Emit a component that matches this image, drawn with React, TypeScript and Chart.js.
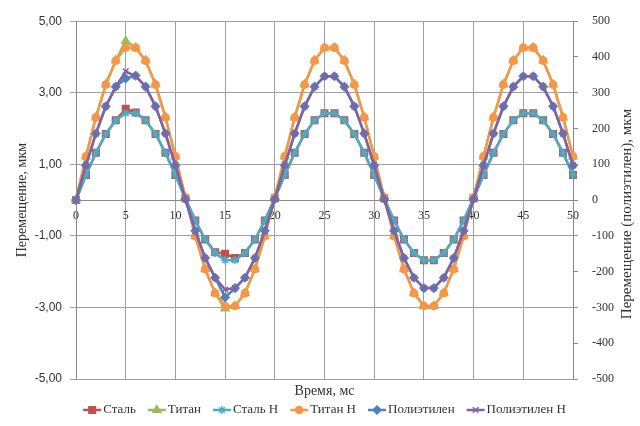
import React, { useEffect, useRef } from 'react';
import { Chart, registerables } from 'chart.js';
import { drawPoint } from 'chart.js/helpers';

Chart.register(...registerables);

// ---- data ----
const timeMs = [
  0, 1, 2, 3, 4, 5, 6, 7, 8, 9, 10, 11, 12, 13, 14, 15, 16, 17, 18, 19,
  20, 21, 22, 23, 24, 25, 26, 27, 28, 29, 30, 31, 32, 33, 34, 35, 36, 37, 38, 39,
  40, 41, 42, 43, 44, 45, 46, 47, 48, 49, 50,
];

// left axis, мкм
const steel = [
  0, 0.70, 1.32, 1.85, 2.23, 2.55, 2.45, 2.23, 1.85, 1.32, 0.70, 0.05, -0.57, -1.10, -1.46, -1.50, -1.62, -1.48, -1.10, -0.57,
  0.05, 0.70, 1.32, 1.85, 2.23, 2.43, 2.43, 2.23, 1.85, 1.32, 0.70, 0.05, -0.57, -1.10, -1.48, -1.68, -1.68, -1.48, -1.10, -0.57,
  0.05, 0.70, 1.32, 1.85, 2.23, 2.43, 2.43, 2.23, 1.85, 1.32, 0.70,
];
const titan = [
  0, 1.22, 2.31, 3.23, 3.90, 4.45, 4.26, 3.90, 3.23, 2.31, 1.22, 0.08, -1.01, -1.93, -2.60, -3.03, -2.96, -2.60, -1.93, -1.01,
  0.08, 1.22, 2.31, 3.23, 3.90, 4.26, 4.26, 3.90, 3.23, 2.31, 1.22, 0.08, -1.01, -1.93, -2.60, -2.96, -2.96, -2.60, -1.93, -1.01,
  0.08, 1.22, 2.31, 3.23, 3.90, 4.26, 4.26, 3.90, 3.23, 2.31, 1.22,
];
const steelH = [
  0, 0.70, 1.32, 1.85, 2.23, 2.43, 2.43, 2.23, 1.85, 1.32, 0.70, 0.05, -0.57, -1.10, -1.48, -1.68, -1.68, -1.48, -1.10, -0.57,
  0.05, 0.70, 1.32, 1.85, 2.23, 2.43, 2.43, 2.23, 1.85, 1.32, 0.70, 0.05, -0.57, -1.10, -1.48, -1.68, -1.68, -1.48, -1.10, -0.57,
  0.05, 0.70, 1.32, 1.85, 2.23, 2.43, 2.43, 2.23, 1.85, 1.32, 0.70,
];
const titanH = [
  0, 1.22, 2.31, 3.23, 3.90, 4.26, 4.26, 3.90, 3.23, 2.31, 1.22, 0.08, -1.01, -1.93, -2.60, -2.96, -2.96, -2.60, -1.93, -1.01,
  0.08, 1.22, 2.31, 3.23, 3.90, 4.26, 4.26, 3.90, 3.23, 2.31, 1.22, 0.08, -1.01, -1.93, -2.60, -2.96, -2.96, -2.60, -1.93, -1.01,
  0.08, 1.22, 2.31, 3.23, 3.90, 4.26, 4.26, 3.90, 3.23, 2.31, 1.22,
];
// right axis, мкм (полиэтилен)
const poly = [
  0, 97, 186, 262, 317, 340, 348, 317, 262, 186, 97, 3, -86, -162, -217, -272, -246, -217, -162, -86,
  3, 97, 186, 262, 317, 346, 346, 317, 262, 186, 97, 3, -86, -162, -217, -246, -246, -217, -162, -86,
  3, 97, 186, 262, 317, 346, 346, 317, 262, 186, 97,
];
const polyH = [
  0, 97, 186, 262, 317, 360, 346, 317, 262, 186, 97, 3, -86, -162, -217, -250, -246, -217, -162, -86,
  3, 97, 186, 262, 317, 346, 346, 317, 262, 186, 97, 3, -86, -162, -217, -246, -246, -217, -162, -86,
  3, 97, 186, 262, 317, 346, 346, 317, 262, 186, 97,
];

const seriesNames = ['Сталь', 'Титан', 'Сталь Н', 'Титан Н', 'Полиэтилен', 'Полиэтилен Н'];
const xTitle = 'Время, мс';
const yLeftTitle = 'Перемещение, мкм';
const yRightTitle = 'Перемещение (полиэтилен), мкм';

// ---- styles ----
const COLORS = ['#C0504D', '#9BBB59', '#4BACC6', '#F79646', '#4F81BD', '#8064A2'];
const STYLES = ['rect', 'triangle', 'star', 'circle', 'rectRot', 'crossRot'];
const RADII = [4.6, 4.5, 4, 3.6, 4, 4];
const ORDERS = [6, 5, 4, 3, 2, 1];
const SERIF = '"Liberation Serif", "Times New Roman", serif';
const SANS = '"Liberation Sans", Arial, sans-serif';
const TEXT = '#333333';
const GRID = '#a0a0a0';
const AXIS = '#8a8a8a';

const decorPlugin = {
  id: 'excelDecor',
  afterDraw(chart: any) {
    const { ctx, chartArea } = chart;
    ctx.save();
    ctx.fillStyle = TEXT;
    ctx.textAlign = 'center';
    ctx.textBaseline = 'middle';
    ctx.font = `14px ${SERIF}`;
    const cx = (chartArea.left + chartArea.right) / 2;
    ctx.fillText(xTitle, cx, 391);

    ctx.save();
    ctx.translate(22, (chartArea.top + chartArea.bottom) / 2);
    ctx.rotate(-Math.PI / 2);
    ctx.fillText(yLeftTitle, 0, 0);
    ctx.restore();

    ctx.save();
    ctx.font = `15px ${SERIF}`;
    ctx.translate(627, 214);
    ctx.rotate(-Math.PI / 2);
    ctx.fillText(yRightTitle, 0, 0);
    ctx.restore();

    // legend
    ctx.font = `13px ${SERIF}`;
    const lineLen = 18;
    const textGap = 2;
    const itemGap = 12;
    const widths = seriesNames.map((n) => lineLen + textGap + ctx.measureText(n).width);
    const total = widths.reduce((a, b) => a + b, 0) + itemGap * (widths.length - 1);
    let x = cx - total / 2;
    const y = 410;
    seriesNames.forEach((name, i) => {
      ctx.strokeStyle = COLORS[i];
      ctx.lineWidth = 2.5;
      ctx.beginPath();
      ctx.moveTo(x, y);
      ctx.lineTo(x + lineLen, y);
      ctx.stroke();
      ctx.fillStyle = COLORS[i];
      ctx.lineWidth = 1.5;
      drawPoint(ctx, { pointStyle: STYLES[i], radius: RADII[i], rotation: 0, borderWidth: 1.5 } as any, x + lineLen / 2, y);
      ctx.fillStyle = TEXT;
      ctx.textAlign = 'left';
      ctx.fillText(name, x + lineLen + textGap, y);
      x += widths[i] + itemGap;
    });
    ctx.restore();
  },
};

export default function App() {
  const canvasRef = useRef<HTMLCanvasElement | null>(null);

  useEffect(() => {
    const canvas = canvasRef.current;
    if (!canvas) return;
    const values = [steel, titan, steelH, titanH, poly, polyH];
    const axes = ['y', 'y', 'y', 'y', 'y2', 'y2'];
    const datasets = values.map((vals, i) => ({
      label: seriesNames[i],
      data: timeMs.map((t, j) => ({ x: t, y: vals[j] })),
      yAxisID: axes[i],
      borderColor: COLORS[i],
      backgroundColor: COLORS[i],
      pointBackgroundColor: COLORS[i],
      pointBorderColor: COLORS[i],
      pointStyle: STYLES[i],
      pointRadius: RADII[i],
      pointBorderWidth: 1.5,
      borderWidth: 2.5,
      tension: 0,
      order: ORDERS[i],
      clip: false,
    }));

    const chart = new Chart(canvas, {
      type: 'line',
      data: { datasets },
      plugins: [decorPlugin],
      options: {
        animation: false,
        responsive: false,
        devicePixelRatio: 1,
        layout: { padding: { top: 19, bottom: 47, left: 0, right: 0 } },
        plugins: { legend: { display: false }, tooltip: { enabled: false } },
        scales: {
          x: {
            type: 'linear',
            position: { y: 0 } as any,
            min: 0,
            max: 50,
            grid: { color: GRID, lineWidth: 1, tickLength: 5 },
            border: { color: AXIS, width: 1 },
            ticks: {
              stepSize: 5,
              padding: 4,
              color: TEXT,
              font: { family: SERIF, size: 12 },
              maxRotation: 0,
              callback: (v: any) => String(v),
            },
          },
          y: {
            type: 'linear',
            position: 'left',
            min: -5,
            max: 5,
            afterFit: (s: any) => { s.width = 76; },
            grid: { color: GRID, lineWidth: 1, tickLength: 6 },
            border: { color: AXIS, width: 1 },
            ticks: {
              stepSize: 2,
              padding: 8,
              color: TEXT,
              font: { family: SANS, size: 12 },
              callback: (v: any) => Number(v).toFixed(2).replace('.', ','),
            },
          },
          y2: {
            type: 'linear',
            position: 'right',
            min: -500,
            max: 500,
            afterFit: (s: any) => { s.width = 67; },
            grid: { drawOnChartArea: false, color: AXIS, tickLength: 5 },
            border: { color: AXIS, width: 1 },
            ticks: {
              stepSize: 100,
              padding: 14,
              color: TEXT,
              font: { family: SERIF, size: 12 },
              callback: (v: any) => String(v),
            },
          },
        },
      } as any,
    });
    return () => chart.destroy();
  }, []);

  return (
    <div style={{ position: 'absolute', left: 0, top: 0, width: 640, height: 426, background: '#ffffff' }}>
      <canvas ref={canvasRef} width={640} height={426} style={{ display: 'block' }} />
    </div>
  );
}
